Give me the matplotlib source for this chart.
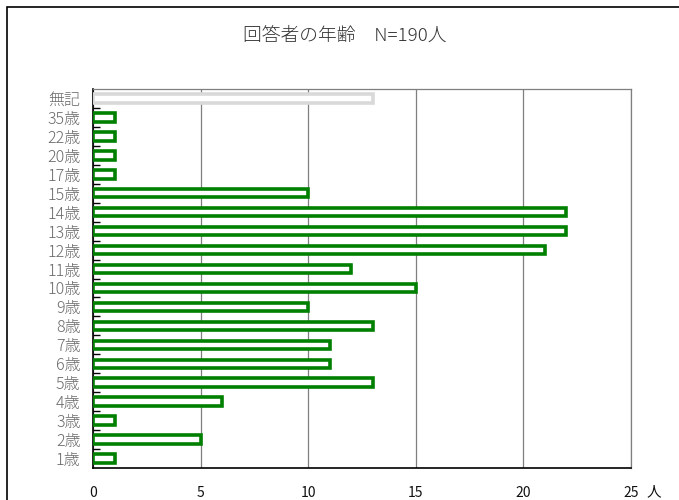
import matplotlib.pyplot as plt
from matplotlib.patches import Rectangle

plt.rcParams['font.family'] = ['Noto Sans CJK JP', 'DejaVu Sans']

# data, bottom to top
ages = ["1歳", "2歳", "3歳", "4歳", "5歳", "6歳", "7歳", "8歳", "9歳", "10歳",
        "11歳", "12歳", "13歳", "14歳", "15歳", "17歳", "20歳", "22歳", "35歳", "無記"]
counts = [1, 5, 1, 6, 13, 11, 11, 13, 10, 15, 12, 21, 22, 22, 10, 1, 1, 1, 1, 13]
title = "回答者の年齢　N=190人"
x_ticks = [0, 5, 10, 15, 20, 25]

fig = plt.figure(figsize=(6.79, 5.00), dpi=100)
ax = fig.add_axes([93 / 679, 1 - 468 / 500, (631 - 93) / 679, (468 - 89) / 500])

# outer chart frame (cut off on the right and bottom)
fig.patches.append(Rectangle((7 / 679, -0.1), 1.2, 1 - 7 / 500 + 0.1, transform=fig.transFigure,
                             fill=False, edgecolor="black", linewidth=1.2))

edge_colors = ["#008000"] * (len(ages) - 1) + ["#d9d9d9"]
pos = list(range(len(ages)))
ax.barh(pos, counts, height=0.45, color="white", edgecolor=edge_colors, linewidth=2.6, zorder=3)

ax.set_xlim(0, 25)
ax.set_ylim(-0.5, len(ages) - 0.5)
ax.set_xticks(x_ticks)
ax.set_xticklabels([str(x) for x in x_ticks], fontsize=10, color="#111111")
ax.tick_params(axis="x", length=0, pad=13)
ax.grid(axis="x", color="#7f7f7f", linewidth=0.9, zorder=0)

ax.set_yticks(pos)
ax.set_yticklabels(ages, fontsize=11.5, color="#6a6a6a", fontweight="light")
ax.tick_params(axis="y", length=0, pad=9)
ax.set_yticks([p + 0.5 for p in pos[:-1]], minor=True)
ax.tick_params(axis="y", which="minor", direction="in", length=5, width=1, color="black")

for s in ["top", "right"]:
    ax.spines[s].set_color("#7f7f7f")
    ax.spines[s].set_linewidth(0.9)
ax.spines["left"].set_linewidth(1.2)
ax.spines["bottom"].set_linewidth(1.2)

fig.text(654 / 679, 1 - 492 / 500, "人", fontsize=10.5, ha="center", va="center", color="#111111")
fig.text(345 / 679, 1 - 36 / 500, title, fontsize=13.5, ha="center", va="center",
         color="#333333", fontweight="light")

fig.savefig("out.png", dpi=100)
